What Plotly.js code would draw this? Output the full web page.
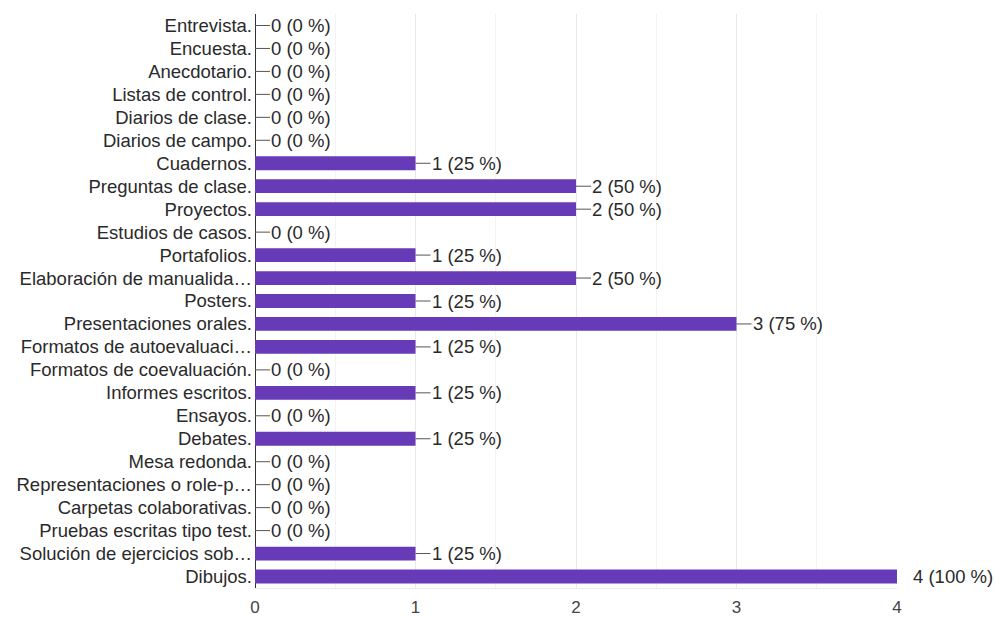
<!DOCTYPE html>
<html>
<head>
<meta charset="utf-8">
<script src="https://cdn.plot.ly/plotly-3.0.1.min.js"></script>
<style>html,body{margin:0;padding:0;background:#fff;}#chart{width:995px;height:617px;}</style>
</head>
<body>
<div id="chart"></div>
<script>
const categories = [
  "Entrevista.", "Encuesta.", "Anecdotario.", "Listas de control.", "Diarios de clase.",
  "Diarios de campo.", "Cuadernos.", "Preguntas de clase.", "Proyectos.", "Estudios de casos.",
  "Portafolios.", "Elaboración de manualida…", "Posters.", "Presentaciones orales.",
  "Formatos de autoevaluaci…", "Formatos de coevaluación.", "Informes escritos.", "Ensayos.",
  "Debates.", "Mesa redonda.", "Representaciones o role-p…", "Carpetas colaborativas.",
  "Pruebas escritas tipo test.", "Solución de ejercicios sob…", "Dibujos."
];
const counts = [0,0,0,0,0,0,1,2,2,0,1,2,1,3,1,0,1,0,1,0,0,0,0,1,4];
const percents = [0,0,0,0,0,0,25,50,50,0,25,50,25,75,25,0,25,0,25,0,0,0,0,25,100];
const xTicks = [0,1,2,3,4];

const maxX = 4;
const textColor = "#2a2a2a";
const fam = "Liberation Sans, Arial, sans-serif";
const fs = 18.5;

const trace = {
  type: "bar",
  orientation: "h",
  x: counts,
  y: categories,
  marker: {color: "#673ab7"},
  hoverinfo: "none"
};

const annotations = categories.map((c, i) => ({
  x: counts[i],
  y: c,
  xref: "x",
  yref: "y",
  text: counts[i] + " (" + percents[i] + " %)",
  showarrow: true,
  arrowhead: 0,
  arrowwidth: 1,
  arrowcolor: counts[i] >= maxX ? "rgba(0,0,0,0)" : "#555555",
  ax: 15,
  ay: 0,
  xanchor: "left",
  yanchor: "middle",
  font: {family: fam, size: fs, color: textColor},
  borderpad: 0
}));

const layout = {
  width: 995,
  height: 617,
  margin: {l: 255, r: 98, t: 13.5, b: 28.5},
  paper_bgcolor: "#ffffff",
  plot_bgcolor: "#ffffff",
  showlegend: false,
  bargap: 0.4,
  font: {family: fam, size: fs, color: textColor},
  xaxis: {
    range: [0, maxX],
    tickvals: xTicks,
    ticktext: xTicks.map(String),
    showgrid: true,
    gridcolor: "#e8e8e8",
    gridwidth: 1,
    minor: {dtick: 0.5, showgrid: true, gridcolor: "#f3f3f3", gridwidth: 1},
    zeroline: true,
    zerolinecolor: "#333333",
    zerolinewidth: 1,
    showline: true,
    linecolor: "#ececec",
    linewidth: 1,
    mirror: false,
    ticks: "",
    ticklabelstandoff: 4,
    tickfont: {family: fam, size: 17, color: "#444444"},
    fixedrange: true
  },
  yaxis: {
    type: "category",
    categoryorder: "array",
    categoryarray: categories,
    autorange: "reversed",
    showgrid: false,
    ticks: "",
    ticklabelstandoff: 2,
    tickfont: {family: fam, size: fs, color: textColor},
    fixedrange: true
  },
  annotations: annotations
};

Plotly.newPlot("chart", [trace], layout, {displayModeBar: false, staticPlot: true});
</script>
</body>
</html>
